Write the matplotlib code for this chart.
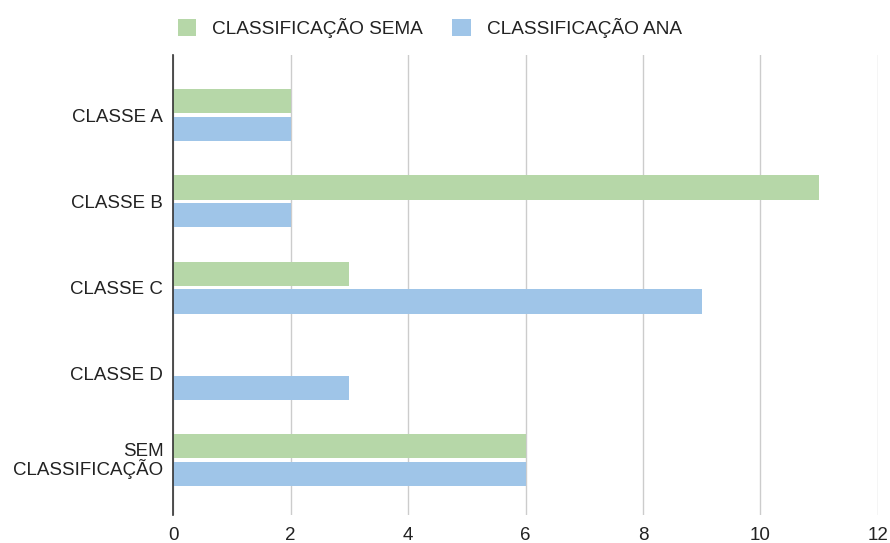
import numpy as np
import matplotlib
matplotlib.use("Agg")
import matplotlib.pyplot as plt
from matplotlib.patches import Patch

categories = ["CLASSE A", "CLASSE B", "CLASSE C", "CLASSE D", "SEM\nCLASSIFICAÇÃO"]
sema = [2, 11, 3, 0, 6]
ana = [2, 2, 9, 3, 6]
series_names = ["CLASSIFICAÇÃO SEMA", "CLASSIFICAÇÃO ANA"]
green = "#b6d7a8"
blue = "#9fc5e8"

plt.rcParams['font.family'] = ['Liberation Sans', 'DejaVu Sans']

fig = plt.figure(figsize=(8.9, 5.43), dpi=100, facecolor='white')
ax = fig.add_axes([0.1944, 0.0516, 0.7921, 0.8471])

y = np.arange(len(categories))
h = 0.28
ax.barh(y - 0.162, sema, height=h, color=green, zorder=3)
ax.barh(y + 0.162, ana, height=h, color=blue, zorder=3)

ax.set_xlim(0, 12)
ax.set_ylim(4.64, -0.7)
ax.set_xticks(range(0, 13, 2))
ax.set_yticks(y)
ax.set_yticklabels(categories, fontsize=13.5, color='#222222', linespacing=0.9)
ax.tick_params(axis='x', labelsize=13.5, colors='#222222', length=0, pad=9)
ax.tick_params(axis='y', length=0, pad=7)
for lab in ax.get_yticklabels():
    lab.set_horizontalalignment('right')

ax.grid(axis='x', color='#cccccc', linewidth=1, zorder=0)
for s in ['top', 'right', 'bottom']:
    ax.spines[s].set_visible(False)
ax.spines['left'].set_color('#333333')
ax.spines['left'].set_linewidth(1.2)
ax.spines['left'].set_zorder(4)

handles = [Patch(facecolor=green, label=series_names[0]),
           Patch(facecolor=blue, label=series_names[1])]
fig.legend(handles=handles, loc='center', bbox_to_anchor=(0.483, 0.948), ncol=2,
           frameon=False, fontsize=13.7, handlelength=0.95, handleheight=0.95,
           handletextpad=0.85, columnspacing=1.55, labelcolor='#222222')

fig.savefig('out.png', dpi=100)
